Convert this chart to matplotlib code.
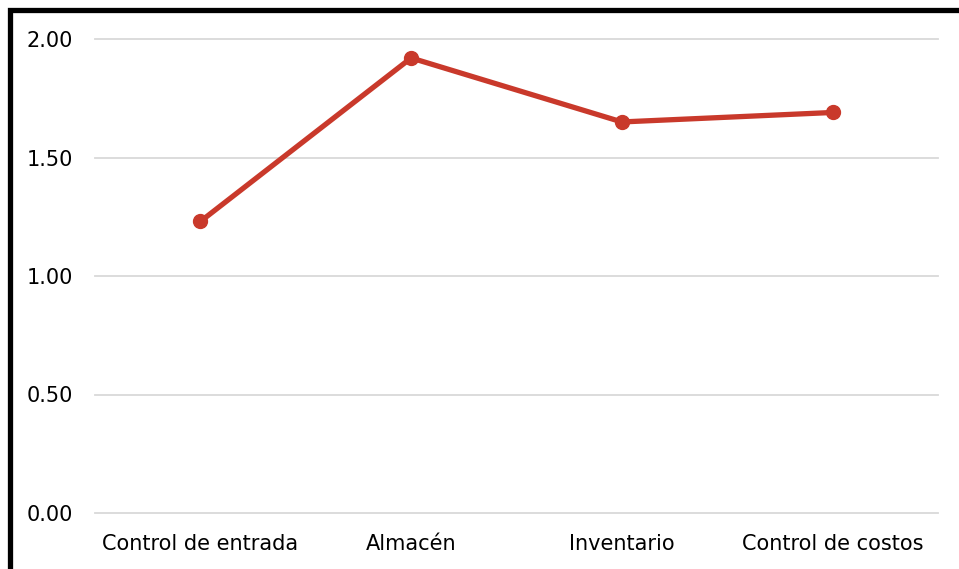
import matplotlib.pyplot as plt
from matplotlib.patches import Rectangle

# Data
categories = ['Control de entrada', 'Almacén', 'Inventario', 'Control de costos']
values = [1.23, 1.92, 1.65, 1.69]
y_ticks = [0.0, 0.5, 1.0, 1.5, 2.0]

W, H = 959, 569
fig = plt.figure(figsize=(W / 100, H / 100), dpi=100)
ax = fig.add_axes([95 / W, 1 - 513 / H, (938 - 95) / W, (513 - 39) / H])

# Line with round markers
ax.plot(range(len(categories)), values, color='#C9392B', linewidth=3.8,
        marker='o', markersize=10, solid_capstyle='round', clip_on=False, zorder=3)

ax.set_xlim(-0.5, len(categories) - 0.5)
ax.set_ylim(0, 2.0)
ax.set_yticks(y_ticks)
ax.set_yticklabels([f'{v:.2f}' for v in y_ticks])
ax.set_xticks(range(len(categories)))
ax.set_xticklabels(categories)

# Horizontal grid lines only
ax.yaxis.grid(True, color='#D9D9D9', linewidth=1.3)
for gl in ax.get_ygridlines():
    gl.set_clip_on(False)
ax.set_axisbelow(True)
for s in ax.spines.values():
    s.set_visible(False)
ax.tick_params(axis='both', length=0, labelsize=15, colors='black')
ax.tick_params(axis='y', pad=16)
ax.tick_params(axis='x', pad=15)

# Thick black frame of the chart area (cut at right and bottom)
frame = Rectangle((9.5 / W, -0.2), 1.2, 1 - 9.5 / H + 0.2, transform=fig.transFigure,
                  fill=False, edgecolor='black', linewidth=3.8, clip_on=False)
fig.patches.append(frame)

fig.savefig('out.png', dpi=100)
